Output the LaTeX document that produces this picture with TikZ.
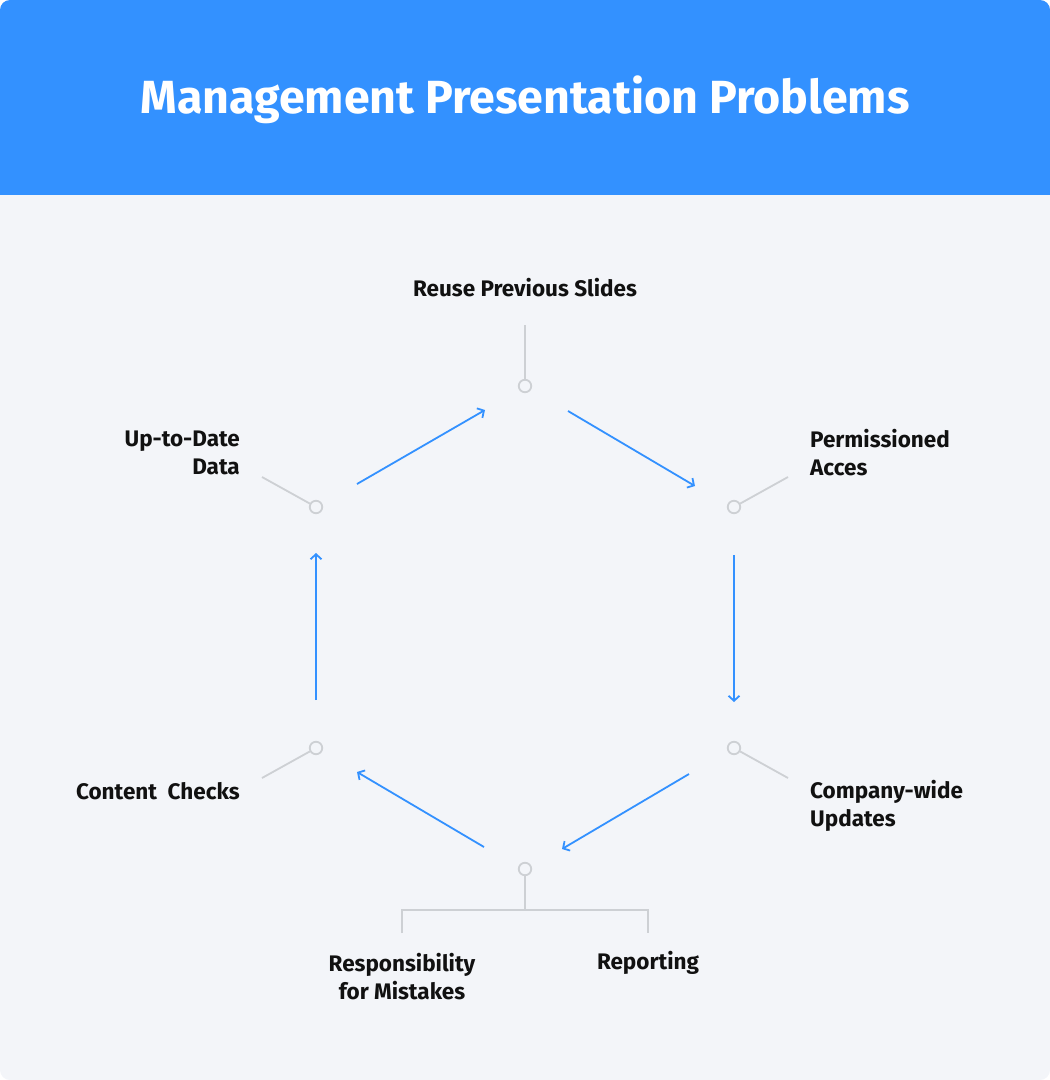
\documentclass[tikz,border=0pt]{standalone}
\usepackage{fontspec}
\setmainfont{Fira Sans}
\usetikzlibrary{arrows.meta}
\definecolor{hdr}{HTML}{3391FF}
\definecolor{bg}{HTML}{F3F5F9}
\definecolor{gline}{HTML}{CDD0D4}
\definecolor{txt}{HTML}{111111}
\tikzset{
  vtx/.style={circle,draw=gline,line width=1.8pt,fill=bg,minimum size=12.5pt,inner sep=0pt},
  lead/.style={draw=gline,line width=1.8pt},
  flow/.style={draw=hdr,line width=1.8pt,-{Straight Barb[length=5pt,width=11pt,line width=1.8pt]}},
  lbl/.style={font=\fontsize{22.5}{28}\selectfont\bfseries,text=txt,inner sep=0pt},
}
\begin{document}
\begin{tikzpicture}[x=1pt,y=-1pt]
\useasboundingbox (0,0) rectangle (1050,1080);
\fill[bg,rounded corners=10pt] (0,0) rectangle (1050,1080);
\fill[hdr,rounded corners=10pt] (0,0) rectangle (1050,100);
\fill[hdr] (0,50) rectangle (1050,195);
\node[font=\fontsize{46.5}{50}\selectfont\bfseries,text=white,inner sep=0pt] (title) at (525,100) {Management Presentation Problems};

% vertices
\node[vtx] (v1) at (525,386) {};
\node[vtx] (v2) at (734,507) {};
\node[vtx] (v3) at (734,748) {};
\node[vtx] (v4) at (525,869) {};
\node[vtx] (v5) at (316,748) {};
\node[vtx] (v6) at (316,507) {};

% leads
\coordinate (l1) at (525,325);
\coordinate (l2) at (788,477);
\coordinate (l3) at (788,778);
\coordinate (l5) at (262,778);
\coordinate (l6) at (262,477);
\draw[lead] (l1) -- (v1);
\draw[lead] (l2) -- (v2);
\draw[lead] (l3) -- (v3);
\draw[lead] (l5) -- (v5);
\draw[lead] (l6) -- (v6);
\coordinate (bj) at (525,910);
\coordinate (bl) at (402,933);
\coordinate (br) at (648,933);
\draw[lead] (v4) -- (bj);
\draw[lead] (bl) |- (bj) -| (br);

% flow arrows
\coordinate (a1s) at (357,484); \coordinate (a1e) at (485,410);
\coordinate (a2s) at (568,411); \coordinate (a2e) at (695,486);
\coordinate (a3s) at (734,555); \coordinate (a3e) at (734,702);
\coordinate (a4s) at (689,774); \coordinate (a4e) at (562,849);
\coordinate (a5s) at (484,847); \coordinate (a5e) at (357,772);
\coordinate (a6s) at (316,700); \coordinate (a6e) at (316,553);
\draw[flow] (a1s) -- (a1e);
\draw[flow] (a2s) -- (a2e);
\draw[flow] (a3s) -- (a3e);
\draw[flow] (a4s) -- (a4e);
\draw[flow] (a5s) -- (a5e);
\draw[flow] (a6s) -- (a6e);

% labels
\node[lbl] (t1) at (525,288) {Reuse Previous Slides};
\node[lbl,anchor=west,align=left] (t2) at (810,453) {Permissioned\\Acces};
\node[lbl,anchor=west,align=left] (t3) at (810,806) {Company-wide\\Updates};
\node[lbl,align=center] (t4a) at (402,977) {Responsibility\\for Mistakes};
\node[lbl] (t4b) at (648,963) {Reporting};
\node[lbl,anchor=east] (t5) at (240,791) {Content\ \ Checks};
\node[lbl,anchor=east,align=right] (t6) at (240,453) {Up-to-Date\\Data};
\end{tikzpicture}
\end{document}
